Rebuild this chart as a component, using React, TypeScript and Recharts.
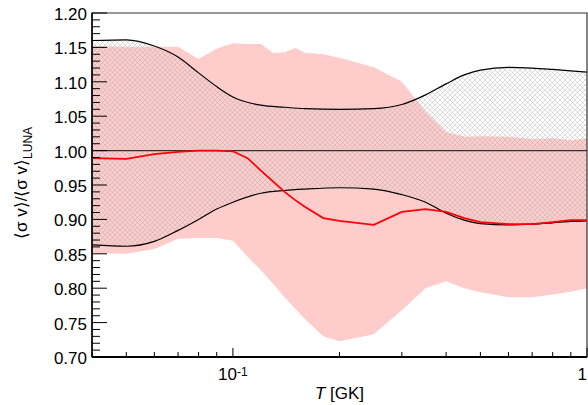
import React from 'react';
import { ComposedChart, Area, Line, XAxis, YAxis, ReferenceLine, ReferenceArea } from 'recharts';

// temperature grid (GK) for the pink band and the red ratio curve
const temps = [0.04, 0.05, 0.06, 0.07, 0.08, 0.09, 0.1, 0.11, 0.12, 0.13, 0.14, 0.15, 0.16, 0.18, 0.2, 0.25, 0.3, 0.35, 0.4, 0.45, 0.5, 0.6, 0.7, 0.8, 0.9, 1.0];
const pinkHigh = [1.152, 1.151, 1.151, 1.151, 1.133, 1.148, 1.156, 1.155, 1.155, 1.142, 1.143, 1.149, 1.142, 1.14, 1.135, 1.121, 1.1, 1.057, 1.027, 1.02, 1.021, 1.02, 1.017, 1.018, 1.015, 1.018];
const pinkLow = [0.851, 0.85, 0.857, 0.872, 0.873, 0.873, 0.869, 0.846, 0.826, 0.806, 0.787, 0.77, 0.755, 0.73, 0.723, 0.733, 0.768, 0.8, 0.81, 0.8, 0.794, 0.787, 0.787, 0.791, 0.795, 0.8];
const ratio = [0.989, 0.988, 0.995, 0.998, 1.0, 1.0, 0.999, 0.989, 0.971, 0.955, 0.94, 0.928, 0.918, 0.902, 0.898, 0.892, 0.911, 0.915, 0.911, 0.902, 0.896, 0.893, 0.893, 0.896, 0.899, 0.899];

// hatched band between the two black curves
const hatchTemps = [0.04, 0.05, 0.06, 0.07, 0.08, 0.09, 0.1, 0.12, 0.14, 0.16, 0.2, 0.25, 0.3, 0.35, 0.4, 0.45, 0.5, 0.6, 0.7, 0.8, 0.9, 1.0];
const hatchHigh = [1.16, 1.161, 1.152, 1.136, 1.113, 1.093, 1.078, 1.066, 1.063, 1.061, 1.06, 1.061, 1.067, 1.081, 1.097, 1.11, 1.117, 1.121, 1.12, 1.118, 1.116, 1.114];
const hatchLow = [0.863, 0.861, 0.868, 0.884, 0.9, 0.915, 0.925, 0.938, 0.942, 0.944, 0.946, 0.944, 0.936, 0.925, 0.909, 0.899, 0.894, 0.892, 0.893, 0.895, 0.897, 0.898];

// axis ticks
const xMajor = [0.1, 1];
const xTicks = [0.04, 0.05, 0.06, 0.07, 0.08, 0.09, 0.1, 0.2, 0.3, 0.4, 0.5, 0.6, 0.7, 0.8, 0.9, 1];
const yTicks: number[] = [];
for (let i = 70; i <= 120; i++) yTicks.push(i / 100);

const mainData = temps.map((t, i) => ({ t, band: [pinkLow[i], pinkHigh[i]], ratio: ratio[i] }));
const hatchData = hatchTemps.map((t, i) => ({ t, band: [hatchLow[i], hatchHigh[i]] }));

const FONT = '"Liberation Sans", Arial, sans-serif';

const XTick = (props: any) => {
  const { x, y, payload } = props;
  const v = payload.value;
  const major = xMajor.some((m) => Math.abs(m - v) < 1e-9);
  return (
    <g>
      <line x1={x} y1={y} x2={x} y2={y - (major ? 9 : 5)} stroke="#000" strokeWidth={1} />
      {major && v < 0.5 && (
        <text x={x} y={y + 23} textAnchor="middle" fontSize={17} fontFamily={FONT} fill="#000">
          <tspan>10</tspan>
          <tspan dy={-4} fontSize={12}>-1</tspan>
        </text>
      )}
      {major && v > 0.5 && (
        <text x={x} y={y + 23} textAnchor="end" fontSize={17} fontFamily={FONT} fill="#000">
          1
        </text>
      )}
    </g>
  );
};

const YTick = (props: any) => {
  const { x, y, payload } = props;
  const v = payload.value;
  const major = Math.round(v * 100) % 5 === 0;
  return (
    <g>
      <line x1={x} y1={y} x2={x + (major ? 15 : 8)} y2={y} stroke="#000" strokeWidth={1} />
      {major && (
        <text x={x - 5} y={y + 7} textAnchor="end" fontSize={17} fontFamily={FONT} fill="#000">
          {v.toFixed(2)}
        </text>
      )}
    </g>
  );
};

const YLabel = (props: any) => {
  const { viewBox } = props;
  const cx = 27;
  const cy = viewBox.y + viewBox.height / 2 - 2;
  return (
    <text
      x={cx}
      y={cy}
      transform={`rotate(-90, ${cx}, ${cy})`}
      textAnchor="middle"
      fontSize={17}
      fontFamily={FONT}
      fill="#000"
    >
      <tspan>⟨σ v⟩/⟨σ v⟩</tspan>
      <tspan dy={5} fontSize={12}>LUNA</tspan>
    </text>
  );
};

const XLabel = (props: any) => {
  const { viewBox } = props;
  return (
    <text
      x={viewBox.x + viewBox.width / 2}
      y={viewBox.y + 42}
      textAnchor="middle"
      fontSize={17}
      fontFamily={FONT}
      fill="#000"
    >
      <tspan fontStyle="italic">T</tspan>
      <tspan> [GK]</tspan>
    </text>
  );
};

export default function App() {
  return (
    <div style={{ position: 'absolute', left: 0, top: 0, background: '#fff' }}>
      <ComposedChart width={588} height={405} data={mainData} margin={{ top: 13, right: 1, left: 0, bottom: 0 }}>
        <defs>
          <pattern id="hatch" patternUnits="userSpaceOnUse" width={5} height={5}>
            <path d="M0,0 L5,5 M5,0 L0,5" stroke="#aaa" strokeWidth={0.4} />
          </pattern>
        </defs>
        <XAxis
          dataKey="t"
          type="number"
          scale="log"
          domain={[0.04, 1]}
          allowDataOverflow
          ticks={xTicks}
          interval={0}
          tick={<XTick />}
          tickLine={false}
          tickSize={0}
          tickMargin={0}
          height={48}
          axisLine={{ stroke: '#000', strokeWidth: 2 }}
          label={<XLabel />}
        />
        <YAxis
          type="number"
          domain={[0.7, 1.2]}
          allowDataOverflow
          ticks={yTicks}
          interval={0}
          tick={<YTick />}
          tickLine={false}
          tickSize={0}
          tickMargin={0}
          width={92}
          axisLine={{ stroke: '#000', strokeWidth: 1.5 }}
          label={<YLabel />}
        />
        <Area
          dataKey="band"
          type="linear"
          stroke="none"
          fill="#ffcccc"
          fillOpacity={1}
          isAnimationActive={false}
        />
        <Area
          data={hatchData}
          dataKey="band"
          type="monotone"
          stroke="#000"
          strokeWidth={1.2}
          fill="url(#hatch)"
          fillOpacity={1}
          isAnimationActive={false}
        />
        <ReferenceLine y={1} stroke="#333" strokeWidth={1.2} />
        <Line
          dataKey="ratio"
          type="linear"
          stroke="#ff0000"
          strokeWidth={1.8}
          dot={false}
          isAnimationActive={false}
        />
        <ReferenceArea x1={0.04} x2={1} y1={0.7} y2={1.2} fill="none" stroke="#333" strokeWidth={1.2} />
      </ComposedChart>
    </div>
  );
}
